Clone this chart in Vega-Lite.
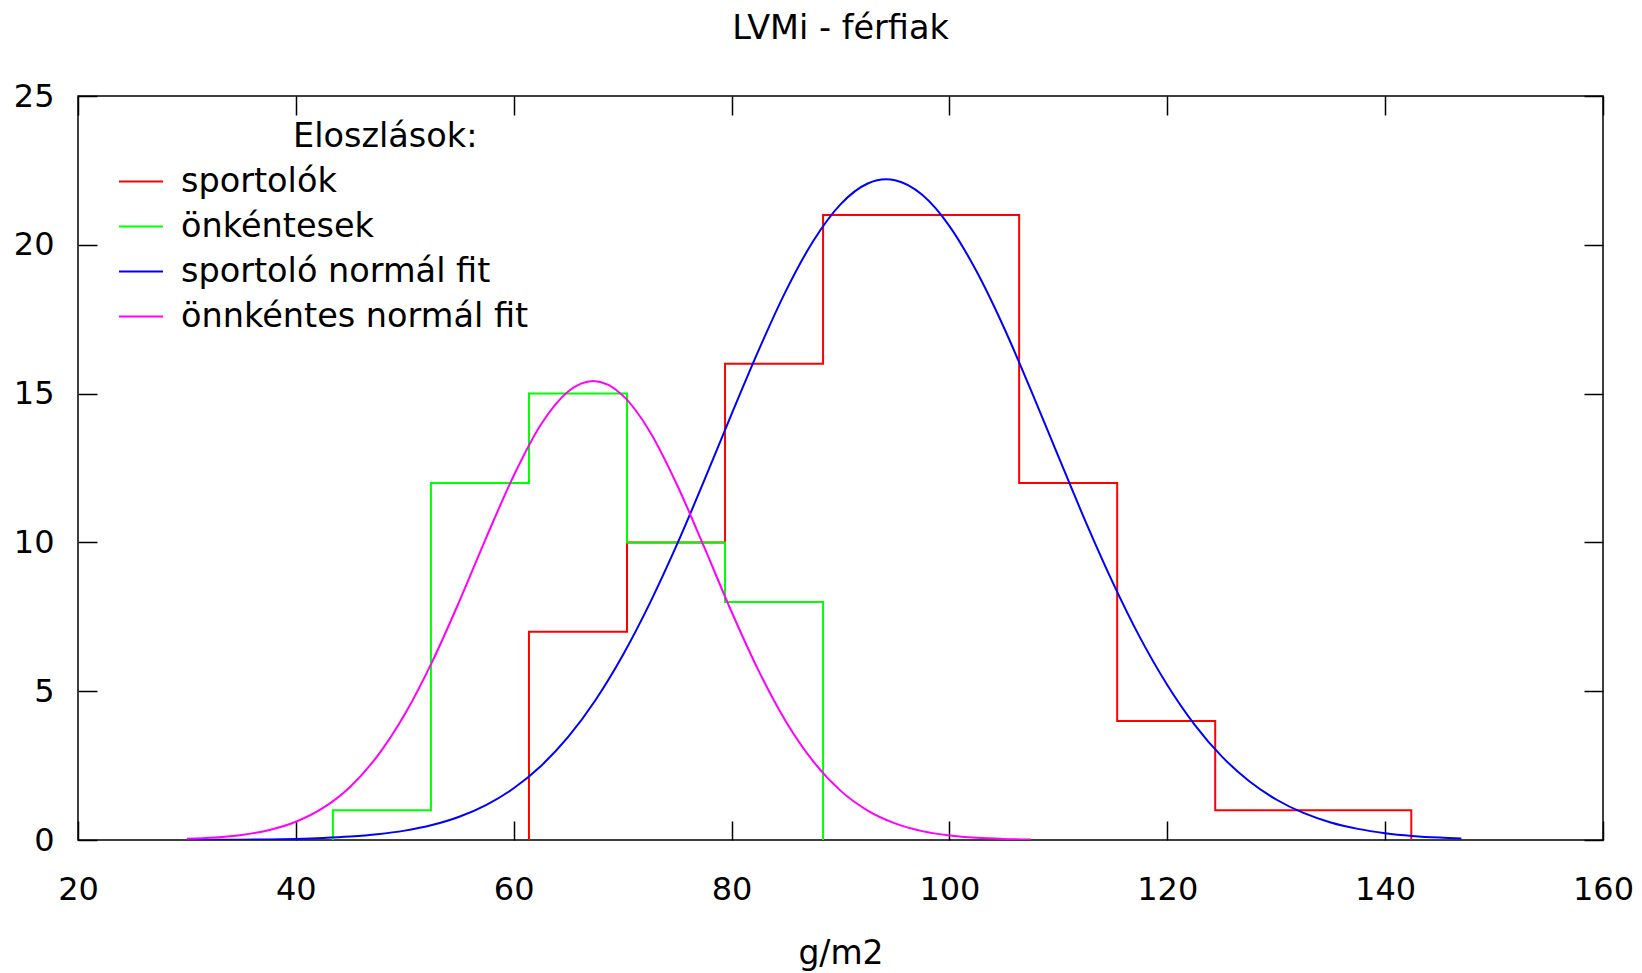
{
  "$schema": "https://vega.github.io/schema/vega-lite/v6.json",
  "width": 1525,
  "height": 744,
  "autosize": "none",
  "padding": {"left": 78, "top": 96, "right": 39, "bottom": 133},
  "background": "white",
  "title": {"text": "LVMi - férfiak", "fontSize": 33.5, "font": "DejaVu Sans", "fontWeight": "normal", "color": "black", "anchor": "middle", "offset": 34},
  "config": {
    "view": {"stroke": "black", "strokeWidth": 1.5},
    "font": "DejaVu Sans",
    "axis": {"labelFont": "DejaVu Sans", "titleFont": "DejaVu Sans", "labelColor": "black", "titleColor": "black", "tickColor": "black", "grid": false, "domain": false}
  },
  "datasets": {
    "hist": [
      {"g": 61.4, "n": 0, "s": "sportolók"},
      {"g": 61.4, "n": 7, "s": "sportolók"},
      {"g": 70.4, "n": 10, "s": "sportolók"},
      {"g": 79.4, "n": 16, "s": "sportolók"},
      {"g": 88.4, "n": 21, "s": "sportolók"},
      {"g": 97.4, "n": 21, "s": "sportolók"},
      {"g": 106.4, "n": 12, "s": "sportolók"},
      {"g": 115.4, "n": 4, "s": "sportolók"},
      {"g": 124.4, "n": 1, "s": "sportolók"},
      {"g": 133.4, "n": 1, "s": "sportolók"},
      {"g": 142.4, "n": 0, "s": "sportolók"},
      {"g": 43.4, "n": 0, "s": "önkéntesek"},
      {"g": 43.4, "n": 1, "s": "önkéntesek"},
      {"g": 52.4, "n": 12, "s": "önkéntesek"},
      {"g": 61.4, "n": 15, "s": "önkéntesek"},
      {"g": 70.4, "n": 10, "s": "önkéntesek"},
      {"g": 79.4, "n": 8, "s": "önkéntesek"},
      {"g": 88.4, "n": 0, "s": "önkéntesek"}
    ],
    "fit": [
      {"g": 30, "n": 0.003, "s": "sportoló normál fit"},
      {"g": 32.5, "n": 0.006, "s": "sportoló normál fit"},
      {"g": 35, "n": 0.011, "s": "sportoló normál fit"},
      {"g": 37.5, "n": 0.02, "s": "sportoló normál fit"},
      {"g": 40, "n": 0.037, "s": "sportoló normál fit"},
      {"g": 42.5, "n": 0.066, "s": "sportoló normál fit"},
      {"g": 45, "n": 0.114, "s": "sportoló normál fit"},
      {"g": 47.5, "n": 0.192, "s": "sportoló normál fit"},
      {"g": 50, "n": 0.315, "s": "sportoló normál fit"},
      {"g": 52.5, "n": 0.502, "s": "sportoló normál fit"},
      {"g": 55, "n": 0.781, "s": "sportoló normál fit"},
      {"g": 57.5, "n": 1.181, "s": "sportoló normál fit"},
      {"g": 60, "n": 1.737, "s": "sportoló normál fit"},
      {"g": 62.5, "n": 2.487, "s": "sportoló normál fit"},
      {"g": 65, "n": 3.463, "s": "sportoló normál fit"},
      {"g": 67.5, "n": 4.698, "s": "sportoló normál fit"},
      {"g": 70, "n": 6.2, "s": "sportoló normál fit"},
      {"g": 72.5, "n": 7.96, "s": "sportoló normál fit"},
      {"g": 75, "n": 9.94, "s": "sportoló normál fit"},
      {"g": 77.5, "n": 12.09, "s": "sportoló normál fit"},
      {"g": 80, "n": 14.31, "s": "sportoló normál fit"},
      {"g": 82.5, "n": 16.47, "s": "sportoló normál fit"},
      {"g": 85, "n": 18.46, "s": "sportoló normál fit"},
      {"g": 87.5, "n": 20.13, "s": "sportoló normál fit"},
      {"g": 90, "n": 21.36, "s": "sportoló normál fit"},
      {"g": 92.5, "n": 22.06, "s": "sportoló normál fit"},
      {"g": 94.2, "n": 22.2, "s": "sportoló normál fit"},
      {"g": 95, "n": 22.17, "s": "sportoló normál fit"},
      {"g": 97.5, "n": 21.68, "s": "sportoló normál fit"},
      {"g": 100, "n": 20.63, "s": "sportoló normál fit"},
      {"g": 102.5, "n": 19.1, "s": "sportoló normál fit"},
      {"g": 105, "n": 17.22, "s": "sportoló normál fit"},
      {"g": 107.5, "n": 15.1, "s": "sportoló normál fit"},
      {"g": 110, "n": 12.89, "s": "sportoló normál fit"},
      {"g": 112.5, "n": 10.7, "s": "sportoló normál fit"},
      {"g": 115, "n": 8.65, "s": "sportoló normál fit"},
      {"g": 117.5, "n": 6.8, "s": "sportoló normál fit"},
      {"g": 120, "n": 5.21, "s": "sportoló normál fit"},
      {"g": 122.5, "n": 3.88, "s": "sportoló normál fit"},
      {"g": 125, "n": 2.81, "s": "sportoló normál fit"},
      {"g": 127.5, "n": 1.982, "s": "sportoló normál fit"},
      {"g": 130, "n": 1.361, "s": "sportoló normál fit"},
      {"g": 132.5, "n": 0.909, "s": "sportoló normál fit"},
      {"g": 135, "n": 0.59, "s": "sportoló normál fit"},
      {"g": 137.5, "n": 0.374, "s": "sportoló normál fit"},
      {"g": 140, "n": 0.23, "s": "sportoló normál fit"},
      {"g": 142.5, "n": 0.138, "s": "sportoló normál fit"},
      {"g": 145, "n": 0.08, "s": "sportoló normál fit"},
      {"g": 147, "n": 0.051, "s": "sportoló normál fit"},
      {"g": 30, "n": 0.038, "s": "önnkéntes normál fit"},
      {"g": 32.5, "n": 0.082, "s": "önnkéntes normál fit"},
      {"g": 35, "n": 0.169, "s": "önnkéntes normál fit"},
      {"g": 37.5, "n": 0.33, "s": "önnkéntes normál fit"},
      {"g": 40, "n": 0.613, "s": "önnkéntes normál fit"},
      {"g": 42.5, "n": 1.078, "s": "önnkéntes normál fit"},
      {"g": 45, "n": 1.792, "s": "önnkéntes normál fit"},
      {"g": 47.5, "n": 2.828, "s": "önnkéntes normál fit"},
      {"g": 50, "n": 4.224, "s": "önnkéntes normál fit"},
      {"g": 52.5, "n": 5.977, "s": "önnkéntes normál fit"},
      {"g": 55, "n": 8.012, "s": "önnkéntes normál fit"},
      {"g": 57.5, "n": 10.18, "s": "önnkéntes normál fit"},
      {"g": 60, "n": 12.24, "s": "önnkéntes normál fit"},
      {"g": 62.5, "n": 13.96, "s": "önnkéntes normál fit"},
      {"g": 65, "n": 15.07, "s": "önnkéntes normál fit"},
      {"g": 67.3, "n": 15.42, "s": "önnkéntes normál fit"},
      {"g": 70, "n": 14.94, "s": "önnkéntes normál fit"},
      {"g": 72.5, "n": 13.72, "s": "önnkéntes normál fit"},
      {"g": 75, "n": 11.93, "s": "önnkéntes normál fit"},
      {"g": 77.5, "n": 9.83, "s": "önnkéntes normál fit"},
      {"g": 80, "n": 7.67, "s": "önnkéntes normál fit"},
      {"g": 82.5, "n": 5.675, "s": "önnkéntes normál fit"},
      {"g": 85, "n": 3.975, "s": "önnkéntes normál fit"},
      {"g": 87.5, "n": 2.638, "s": "önnkéntes normál fit"},
      {"g": 90, "n": 1.659, "s": "önnkéntes normál fit"},
      {"g": 92.5, "n": 0.988, "s": "önnkéntes normál fit"},
      {"g": 95, "n": 0.558, "s": "önnkéntes normál fit"},
      {"g": 97.5, "n": 0.298, "s": "önnkéntes normál fit"},
      {"g": 100, "n": 0.151, "s": "önnkéntes normál fit"},
      {"g": 102.5, "n": 0.072, "s": "önnkéntes normál fit"},
      {"g": 105, "n": 0.033, "s": "önnkéntes normál fit"},
      {"g": 107.5, "n": 0.014, "s": "önnkéntes normál fit"}
    ]
  },
  "layer": [
    {
      "data": {"name": "hist"},
      "mark": {"type": "line", "interpolate": "step-after", "strokeWidth": 2, "clip": true},
      "encoding": {
        "x": {"field": "g", "type": "quantitative", "scale": {"domain": [20, 160], "nice": false, "zero": false},
          "axis": {"orient": "bottom", "values": [20, 40, 60, 80, 100, 120, 140, 160], "tickSize": -19, "tickWidth": 1.5, "labelPadding": 53, "labelFontSize": 32, "title": "g/m2", "titleFontSize": 33, "titleFontWeight": "normal", "titlePadding": 32, "labelFlush": false}},
        "y": {"field": "n", "type": "quantitative", "scale": {"domain": [0, 25], "nice": false},
          "axis": {"orient": "left", "values": [0, 5, 10, 15, 20, 25], "tickSize": -19, "tickWidth": 1.5, "labelPadding": 43, "labelFontSize": 32, "title": null, "labelFlush": false}},
        "color": {"field": "s", "type": "nominal",
          "scale": {"domain": ["sportolók", "önkéntesek", "sportoló normál fit", "önnkéntes normál fit"], "range": ["#ff0000", "#00ff00", "#0000ff", "#ff00ff"]},
          "legend": {"orient": "none", "legendX": 40, "legendY": 25, "padding": 0, "title": "Eloszlások:", "titleFontSize": 33.5, "titleFontWeight": "normal", "titleColor": "black", "titleAnchor": "middle", "titleAlign": "left", "titlePadding": 4, "titleLimit": 0, "labelFontSize": 33.5, "labelColor": "black", "labelLimit": 0, "symbolType": "stroke", "symbolSize": 1936, "symbolStrokeWidth": 2, "labelOffset": 17, "rowPadding": 5,
            "encode": {"title": {"update": {"dx": {"value": -30}}}}}},
        "order": {"value": null}
      }
    },
    {
      "data": {"name": "fit"},
      "mark": {"type": "line", "interpolate": "monotone", "strokeWidth": 2, "clip": true},
      "encoding": {
        "x": {"field": "g", "type": "quantitative",
          "axis": {"orient": "top", "values": [20, 40, 60, 80, 100, 120, 140, 160], "tickSize": -19, "tickWidth": 1.5, "labels": false, "title": null}},
        "y": {"field": "n", "type": "quantitative",
          "axis": {"orient": "right", "values": [0, 5, 10, 15, 20, 25], "tickSize": -19, "tickWidth": 1.5, "labels": false, "title": null}},
        "color": {"field": "s", "type": "nominal"}
      }
    }
  ],
  "resolve": {"axis": {"x": "independent", "y": "independent"}}
}
